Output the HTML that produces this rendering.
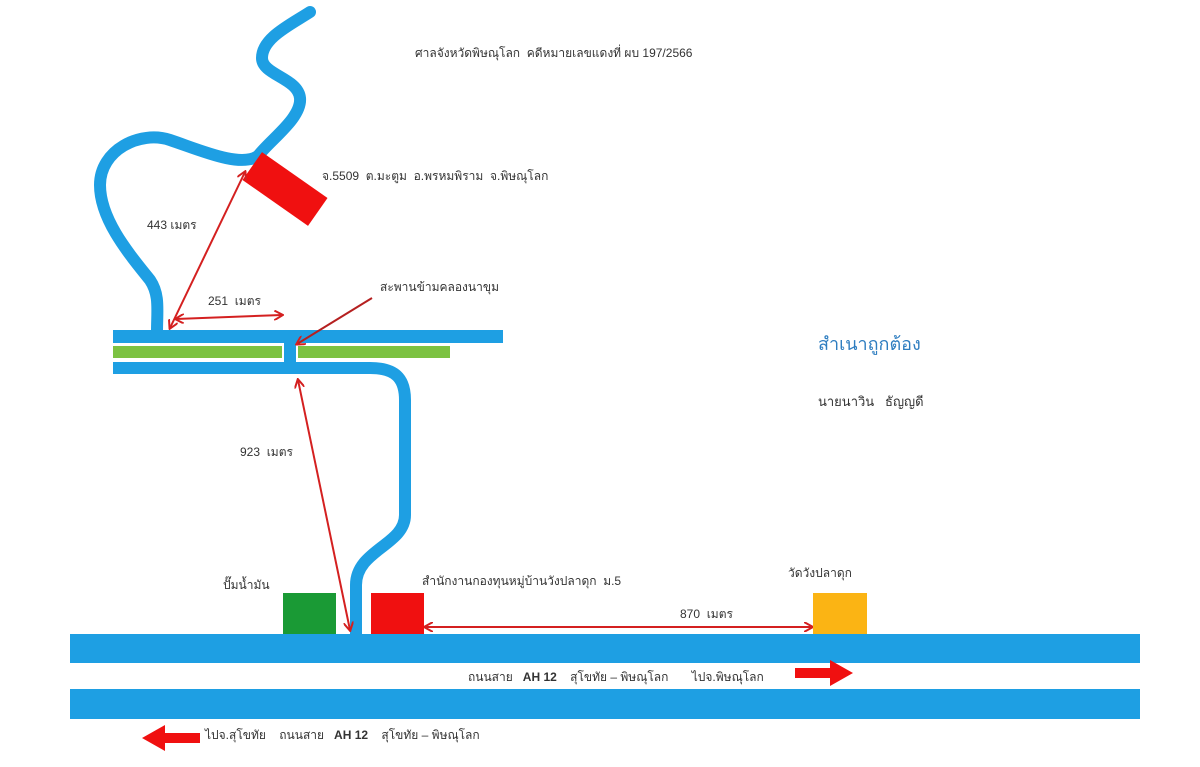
<!DOCTYPE html>
<html><head><meta charset="utf-8"><style>
html,body{margin:0;padding:0;background:#fff;}
svg text{font-family:"Liberation Sans","Noto Sans CJK SC",sans-serif;fill:#333;font-size:12px;white-space:pre;}
</style></head><body>
<svg width="1200" height="762" viewBox="0 0 1200 762" xmlns="http://www.w3.org/2000/svg">
<defs>
<marker id="ah" markerWidth="10" markerHeight="10" refX="8" refY="5" orient="auto-start-reverse" markerUnits="userSpaceOnUse"><path d="M0,0 L9,5 L0,10" fill="none" stroke="#d42020" stroke-width="2"/></marker>
</defs>
<path d="M310,12 C290,25 262,38 262,58 C262,75 298,78 300,98 C302,118 270,140 258,156 C240,168 200,150 170,140 C140,130 100,150 100,185 C100,220 130,255 150,280 C160,295 157,310 157,332" fill="none" stroke="#1e9fe3" stroke-width="12" stroke-linecap="round"/>
<rect x="113" y="330" width="390" height="13" fill="#1e9fe3"/>
<rect x="113" y="346" width="169" height="12" fill="#7cc242"/>
<rect x="298" y="346" width="152" height="12" fill="#7cc242"/>
<rect x="284" y="343" width="12" height="20" fill="#1e9fe3"/>
<path d="M113,368 L370,368 C395,368 405,378 405,400 L405,515 C405,545 356,550 356,585 L356,634" fill="none" stroke="#1e9fe3" stroke-width="12"/>
<rect x="245" y="172" width="80" height="34" fill="#f01010" transform="rotate(35 285 189)"/>
<line x1="170" y1="328" x2="245" y2="172" stroke="#d42020" stroke-width="2" marker-start="url(#ah)" marker-end="url(#ah)"/>
<line x1="176" y1="319" x2="282" y2="315" stroke="#d42020" stroke-width="2" marker-start="url(#ah)" marker-end="url(#ah)"/>
<line x1="372" y1="298" x2="297" y2="344" stroke="#b52020" stroke-width="2" marker-end="url(#ah)"/>
<line x1="298" y1="380" x2="350" y2="630" stroke="#d42020" stroke-width="2" marker-start="url(#ah)" marker-end="url(#ah)"/>
<line x1="425" y1="627" x2="812" y2="627" stroke="#d42020" stroke-width="2" marker-start="url(#ah)" marker-end="url(#ah)"/>
<rect x="283" y="593" width="53" height="41" fill="#1a9a35"/>
<rect x="371" y="593" width="53" height="41" fill="#f01010"/>
<rect x="813" y="593" width="54" height="41" fill="#fbb414"/>
<rect x="70" y="634" width="1070" height="29" fill="#1e9fe3"/>
<rect x="70" y="689" width="1070" height="30" fill="#1e9fe3"/>
<path d="M795,668 L830,668 L830,660 L853,673 L830,686 L830,678 L795,678 Z" fill="#f01010"/>
<path d="M200,733 L165,733 L165,725 L142,738 L165,751 L165,743 L200,743 Z" fill="#f01010"/>
<text x="415" y="57">ศาลจังหวัดพิษณุโลก  คดีหมายเลขแดงที่ ผบ 197/2566</text>
<text x="322" y="180">จ.5509  ต.มะตูม  อ.พรหมพิราม  จ.พิษณุโลก</text>
<text x="147" y="229">443 เมตร</text>
<text x="208" y="305">251  เมตร</text>
<text x="380" y="291">สะพานข้ามคลองนาขุม</text>
<text x="818" y="350" style="fill:#2e7dc0;font-size:18px">สำเนาถูกต้อง</text>
<text x="818" y="406" style="font-size:13px">นายนาวิน   ธัญญดี</text>
<text x="240" y="456">923  เมตร</text>
<text x="223" y="589">ปั๊มน้ำมัน</text>
<text x="422" y="585">สำนักงานกองทุนหมู่บ้านวังปลาดุก  ม.5</text>
<text x="788" y="577">วัดวังปลาดุก</text>
<text x="680" y="618">870  เมตร</text>
<text x="468" y="681">ถนนสาย   <tspan font-weight="bold">AH 12</tspan>    สุโขทัย – พิษณุโลก       ไปจ.พิษณุโลก</text>
<text x="205" y="739">ไปจ.สุโขทัย    ถนนสาย   <tspan font-weight="bold">AH 12</tspan>    สุโขทัย – พิษณุโลก</text>
</svg>
</body></html>
